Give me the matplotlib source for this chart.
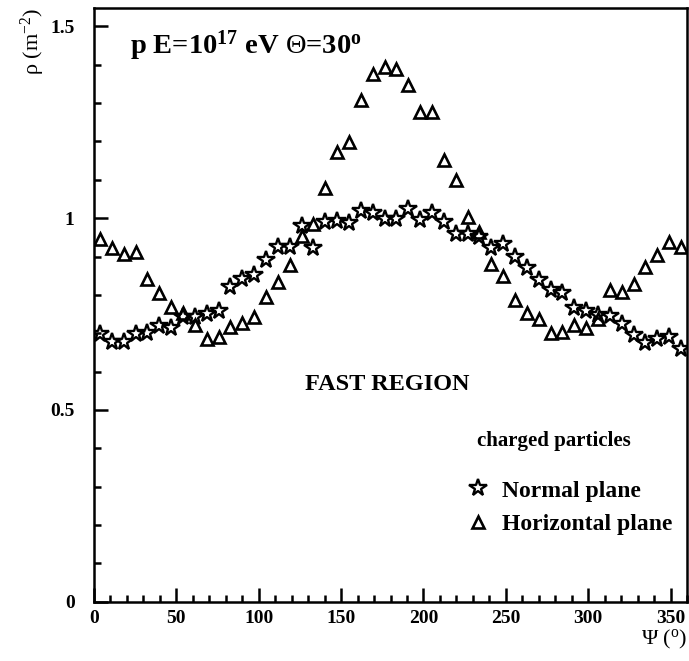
import numpy as np
import matplotlib
matplotlib.use("Agg")
import matplotlib.pyplot as plt
from matplotlib.ticker import MultipleLocator, FixedLocator
from matplotlib.lines import Line2D
from matplotlib.font_manager import FontProperties

plt.rcParams['font.family'] = ['Liberation Serif', 'DejaVu Serif']
plt.rcParams['mathtext.fontset'] = 'custom'
plt.rcParams['mathtext.rm'] = 'Liberation Serif'
plt.rcParams['mathtext.it'] = 'Liberation Serif:italic'
plt.rcParams['mathtext.bf'] = 'Liberation Serif:bold'

# azimuth bin centres (degrees)
psi = [3.6, 10.8, 18.0, 25.2, 32.4, 39.6, 46.8, 54.0, 61.2, 68.4,
       75.6, 82.8, 90.0, 97.2, 104.4, 111.6, 118.8, 126.0, 133.2, 140.4,
       147.6, 154.8, 162.0, 169.2, 176.4, 183.6, 190.8, 198.0, 205.2, 212.4,
       219.6, 226.8, 234.0, 241.2, 248.4, 255.6, 262.8, 270.0, 277.2, 284.4,
       291.6, 298.8, 306.0, 313.2, 320.4, 327.6, 334.8, 342.0, 349.2, 356.4]

# charged particle density, normal plane
rho_normal = [0.698, 0.677, 0.677, 0.698, 0.701, 0.719, 0.714, 0.743, 0.743, 0.750,
              0.758, 0.821, 0.842, 0.852, 0.891, 0.925, 0.925, 0.980, 0.922, 0.989,
              0.992, 0.988, 1.019, 1.013, 0.998, 0.999, 1.023, 0.996, 1.014, 0.990,
              0.960, 0.960, 0.950, 0.921, 0.932, 0.899, 0.869, 0.840, 0.813, 0.804,
              0.766, 0.757, 0.748, 0.744, 0.724, 0.696, 0.675, 0.686, 0.690, 0.659]

# charged particle density, horizontal plane
rho_horizontal = [0.946, 0.923, 0.907, 0.911, 0.842, 0.806, 0.769, 0.753, 0.722, 0.685,
                  0.690, 0.716, 0.727, 0.743, 0.795, 0.834, 0.878, 0.954, 0.985, 1.079,
                  1.172, 1.199, 1.309, 1.376, 1.393, 1.389, 1.348, 1.277, 1.277, 1.152,
                  1.100, 1.002, 0.964, 0.881, 0.849, 0.787, 0.753, 0.737, 0.701, 0.703,
                  0.722, 0.714, 0.737, 0.813, 0.808, 0.829, 0.873, 0.904, 0.938, 0.925]

y_ticks = [0, 0.5, 1, 1.5]
y_ticklabels = ['0', '0.5', '1', '1.5']

star_style = dict(linestyle='none', marker='*', markersize=13, markerfacecolor='none',
                  markeredgecolor='black', markeredgewidth=1.7)
tri_style = dict(linestyle='none', marker='^', markersize=9, markerfacecolor='none',
                 markeredgecolor='black', markeredgewidth=1.9)

fig = plt.figure(figsize=(6.89, 6.61), dpi=100)
ax = fig.add_axes([94 / 689, 59.3 / 661, 593 / 689, 593.7 / 661])

ax.plot(psi, rho_horizontal, **tri_style)
ax.plot(psi, rho_normal, **star_style)

ax.set_xlim(0, 360)
ax.set_ylim(0, 1.548)

tick_font = FontProperties(family='Liberation Serif', weight='bold', size=14)
ax.xaxis.set_major_locator(MultipleLocator(50))
ax.xaxis.set_minor_locator(MultipleLocator(10))
ax.yaxis.set_major_locator(FixedLocator(y_ticks))
ax.yaxis.set_minor_locator(MultipleLocator(0.1))
ax.set_yticklabels(y_ticklabels)
ax.tick_params(which='both', direction='in', top=False, right=False, width=1.8)
ax.tick_params(which='major', length=10)
ax.tick_params(which='minor', length=5)
ax.tick_params(axis='y', pad=14)
ax.tick_params(axis='x', pad=6)
for lab in ax.get_xticklabels() + ax.get_yticklabels():
    lab.set_fontproperties(tick_font)
for s in ax.spines.values():
    s.set_linewidth(1.8)

ax.set_xlabel('Ψ ($^{\\rm o}$)', loc='right', fontsize=16, labelpad=1)
ax.set_ylabel('ρ (m$^{-2}$)', loc='top', fontsize=16, labelpad=2)

ax.text(0.061, 0.965, r'p E=10$^{\mathbf{17}}$ eV $\Theta$=30$^{\mathbf{o}}$',
        transform=ax.transAxes, fontsize=20.5, fontweight='bold', va='top')
ax.text(0.494, 0.357, 'FAST REGION', transform=ax.transAxes, ha='center',
        fontsize=17.5, fontweight='bold')

# legend: heading as text, entries below it
ax.text(0.6459, 0.2707, 'charged particles', transform=ax.transAxes,
        va='center', ha='left', fontsize=15, fontweight='bold')
handles = [Line2D([], [], **star_style), Line2D([], [], **tri_style)]
leg = ax.legend(handles, ['Normal plane', 'Horizontal plane'], frameon=False,
                loc='upper left', bbox_to_anchor=(0.627, 0.205), borderpad=0,
                borderaxespad=0,
                prop=dict(family='Liberation Serif', weight='bold', size=17),
                handlelength=1.0, handletextpad=0.52, labelspacing=0.52)

fig.savefig('out.png', dpi=100)
